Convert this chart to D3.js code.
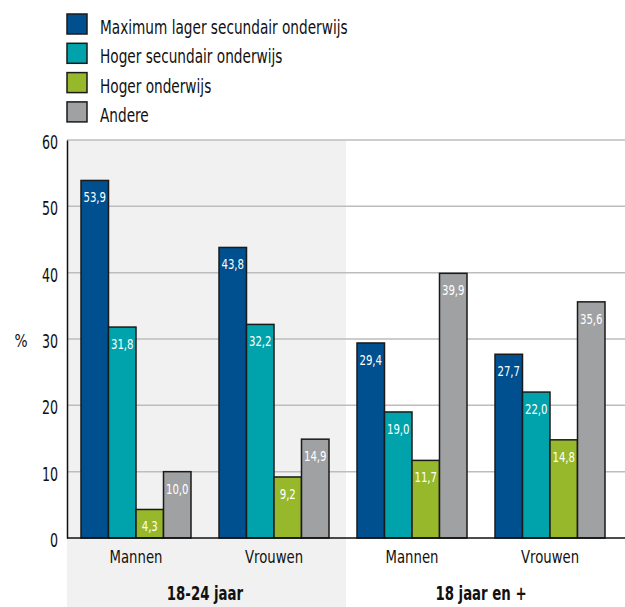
<!DOCTYPE html>
<html><head><meta charset="utf-8">
<script src="https://cdn.jsdelivr.net/npm/d3@7"></script>
<style>
body{margin:0;background:#fff;}
svg{display:block;font-family:"DejaVu Sans Condensed","DejaVu Sans",sans-serif;}
</style></head>
<body><svg id="c" width="625" height="607"></svg>
<script>
const groups = ["18-24 jaar", "18 jaar en +"];
const subgroups = ["Mannen", "Vrouwen"];
const series = ["Maximum lager secundair onderwijs", "Hoger secundair onderwijs", "Hoger onderwijs", "Andere"];
const colors = ["#00508f", "#00a3ab", "#97b82a", "#a0a1a3"];
const categories = ["18-24 jaar|Mannen", "18-24 jaar|Vrouwen", "18 jaar en +|Mannen", "18 jaar en +|Vrouwen"];
const valMaxLager = [53.9, 43.8, 29.4, 27.7];
const valHogerSec = [31.8, 32.2, 19.0, 22.0];
const valHogerOnd = [4.3, 9.2, 11.7, 14.8];
const valAndere = [10.0, 14.9, 39.9, 35.6];
const yTicks = [0, 10, 20, 30, 40, 50, 60];

const values = [valMaxLager, valHogerSec, valHogerOnd, valAndere];
const svg = d3.select("#c");
const pL = 67, pR = 619, pT = 140, pB = 538;
const x = d3.scaleBand().domain(categories).range([pL, pR]).paddingInner(0).paddingOuter(0);
const xs = d3.scaleBand().domain(series).range([14, x.bandwidth() - 14]);
const y = d3.scaleLinear().domain([0, 60]).range([pB, pT]);

function txt(g, tx, ty, str, size, sx, anchor, weight, fill) {
  return g.append("text")
    .attr("transform", `translate(${tx},${ty}) scale(${sx},1)`)
    .attr("text-anchor", anchor || "start")
    .attr("font-size", size)
    .attr("font-weight", weight || "normal")
    .attr("fill", fill || "#111")
    .text(str);
}

// background for first group
svg.append("rect").attr("x", pL).attr("y", pT).attr("width", x.bandwidth() * 2 + 3).attr("height", 607 - pT).attr("fill", "#f1f1f1");

// gridlines
svg.append("g").selectAll("line").data(yTicks.filter(d => d > 0)).join("line")
  .attr("x1", pL).attr("x2", 625).attr("y1", d => y(d)).attr("y2", d => y(d))
  .attr("stroke", "#bdbdbd").attr("stroke-width", 1.5);

// bars
const fmt = v => d3.format(".1f")(v).replace(".", ",");
categories.forEach((c, ci) => {
  series.forEach((s, si) => {
    const v = values[si][ci];
    const bx = x(c) + xs(s);
    svg.append("rect").attr("x", bx).attr("y", y(v)).attr("width", xs.bandwidth()).attr("height", y(0) - y(v))
      .attr("fill", colors[si]).attr("stroke", "#1a1a1a").attr("stroke-width", 1.5);
    txt(svg, bx + xs.bandwidth() / 2, y(v) + 22, fmt(v), 14.5, 0.78, "middle", "normal", "#fff");
  });
});

// y axis
const yAxis = d3.axisLeft(y).tickValues(yTicks).tickSize(0).tickPadding(0).tickFormat("");
const gy = svg.append("g").attr("transform", `translate(${pL},0)`).call(yAxis);
gy.select(".domain").attr("stroke", "#111").attr("stroke-width", 1.5);
yTicks.forEach(t => txt(svg, pL - 9, y(t) + 9, String(t), 19, 0.74, "end"));

// x axis line
svg.append("line").attr("x1", pL).attr("x2", 625).attr("y1", y(0)).attr("y2", y(0)).attr("stroke", "#111").attr("stroke-width", 1.5);

categories.forEach(c => txt(svg, x(c) + x.bandwidth() / 2, 563, c.split("|")[1], 18, 0.82, "middle"));
groups.forEach((g, i) => txt(svg, pL + x.bandwidth() * (2 * i + 1), 600, g, 19.5, 0.76, "middle", "bold"));

txt(svg, 21, 347, "%", 18, 0.85, "middle");

// legend
const lg = svg.append("g");
series.forEach((s, i) => {
  const yy = 14 + i * 29.3;
  lg.append("rect").attr("x", 67).attr("y", yy).attr("width", 20).attr("height", 20)
    .attr("fill", colors[i]).attr("stroke", "#1a1a1a").attr("stroke-width", 1.5);
  txt(lg, 100, yy + 20, s, 19, 0.8);
});
</script></body></html>
